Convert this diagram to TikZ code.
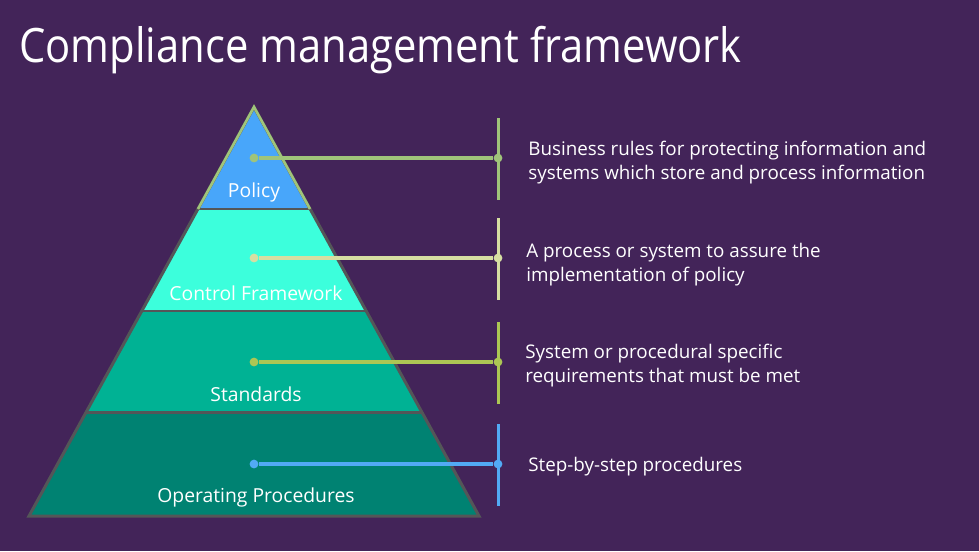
\documentclass[tikz,border=0pt]{standalone}
\usepackage{fontspec}
\setmainfont{Open Sans}
\definecolor{cbg}{RGB}{67,36,89}
\definecolor{cpol}{RGB}{72,166,250}
\definecolor{cctl}{RGB}{60,255,220}
\definecolor{cstd}{RGB}{0,178,148}
\definecolor{cops}{RGB}{0,130,114}
\definecolor{cedge}{RGB}{84,86,88}
\definecolor{lpol}{RGB}{160,196,122}
\definecolor{lctl}{RGB}{214,222,162}
\definecolor{lstd}{RGB}{172,198,84}
\definecolor{lops}{RGB}{82,170,245}
\tikzset{px/.style={x=0.02cm,y=-0.02cm}}
\tikzset{band/.style={white,font=\fontsize{11}{13}\selectfont,anchor=base},
         desc/.style={white,font=\fontsize{10.7}{13.6}\selectfont,align=left,anchor=west,inner sep=0pt},
         dot/.style={circle,fill=#1,inner sep=0pt,minimum size=5pt},
         link/.style={#1,line width=2.3pt},
         bar/.style={#1,line width=1.7pt}}

\begin{document}
\begin{tikzpicture}[px]
    \fill[cbg] (0,0) rectangle (979,551);
    \useasboundingbox (0,0) rectangle (979,551);
    \node[white,anchor=base west,inner sep=0pt,font=\fontsize{27}{30}\selectfont] (title) at (19,62) {\scalebox{0.88}[1]{Compliance management framework}};
    % pyramid bands, bottom up
    \fill[cops] (29,516) -- (479,516) -- (422,412) -- (86,412) -- cycle;
    \fill[cstd] (86,412) -- (422,412) -- (366,311) -- (142,311) -- cycle;
    \fill[cctl] (142,311) -- (366,311) -- (310,209) -- (198,209) -- cycle;
    \fill[cpol] (198,209) -- (310,209) -- (254,107) -- cycle;
    \draw[cedge,line width=1.7pt,line join=miter] (254,107) -- (479,516) -- (29,516) -- cycle;
    \draw[cedge,line width=1.7pt] (86,412) -- (422,412) (142,311) -- (366,311) (198,209) -- (310,209);
    \draw[lpol,line width=1.5pt] (198,209) -- (254,107) -- (310,209);
    \node[band] (pol) at (254,197) {Policy};
    \node[band] (ctl) at (256,300) {Control Framework};
    \node[band] (std) at (256,401) {Standards};
    \node[band] (ops) at (256,502) {Operating Procedures};
    % connectors
    \foreach \i/\y/\c in {1/158/lpol,2/258/lctl,3/362/lstd,4/464/lops} {
        \coordinate (t\i) at (498,\y-40);
        \coordinate (b\i) at (498,\y+42);
        \draw[bar=\c] (t\i) -- (b\i);
        \node[dot=\c] (a\i) at (254,\y) {};
        \node[dot=\c] (z\i) at (498,\y) {};
        \draw[link=\c] (a\i) -- (z\i);
    }
    \node[desc] (d1) at (528,162.5) {Business rules for protecting information and\\systems which store and process information};
    \node[desc] (d2) at (526,264.5) {A process or system to assure the\\implementation of policy};
    \node[desc] (d3) at (525,365.5) {System or procedural specific\\requirements that must be met};
    \node[desc] (d4) at (528,466.5) {Step-by-step procedures};
\end{tikzpicture}
\end{document}
